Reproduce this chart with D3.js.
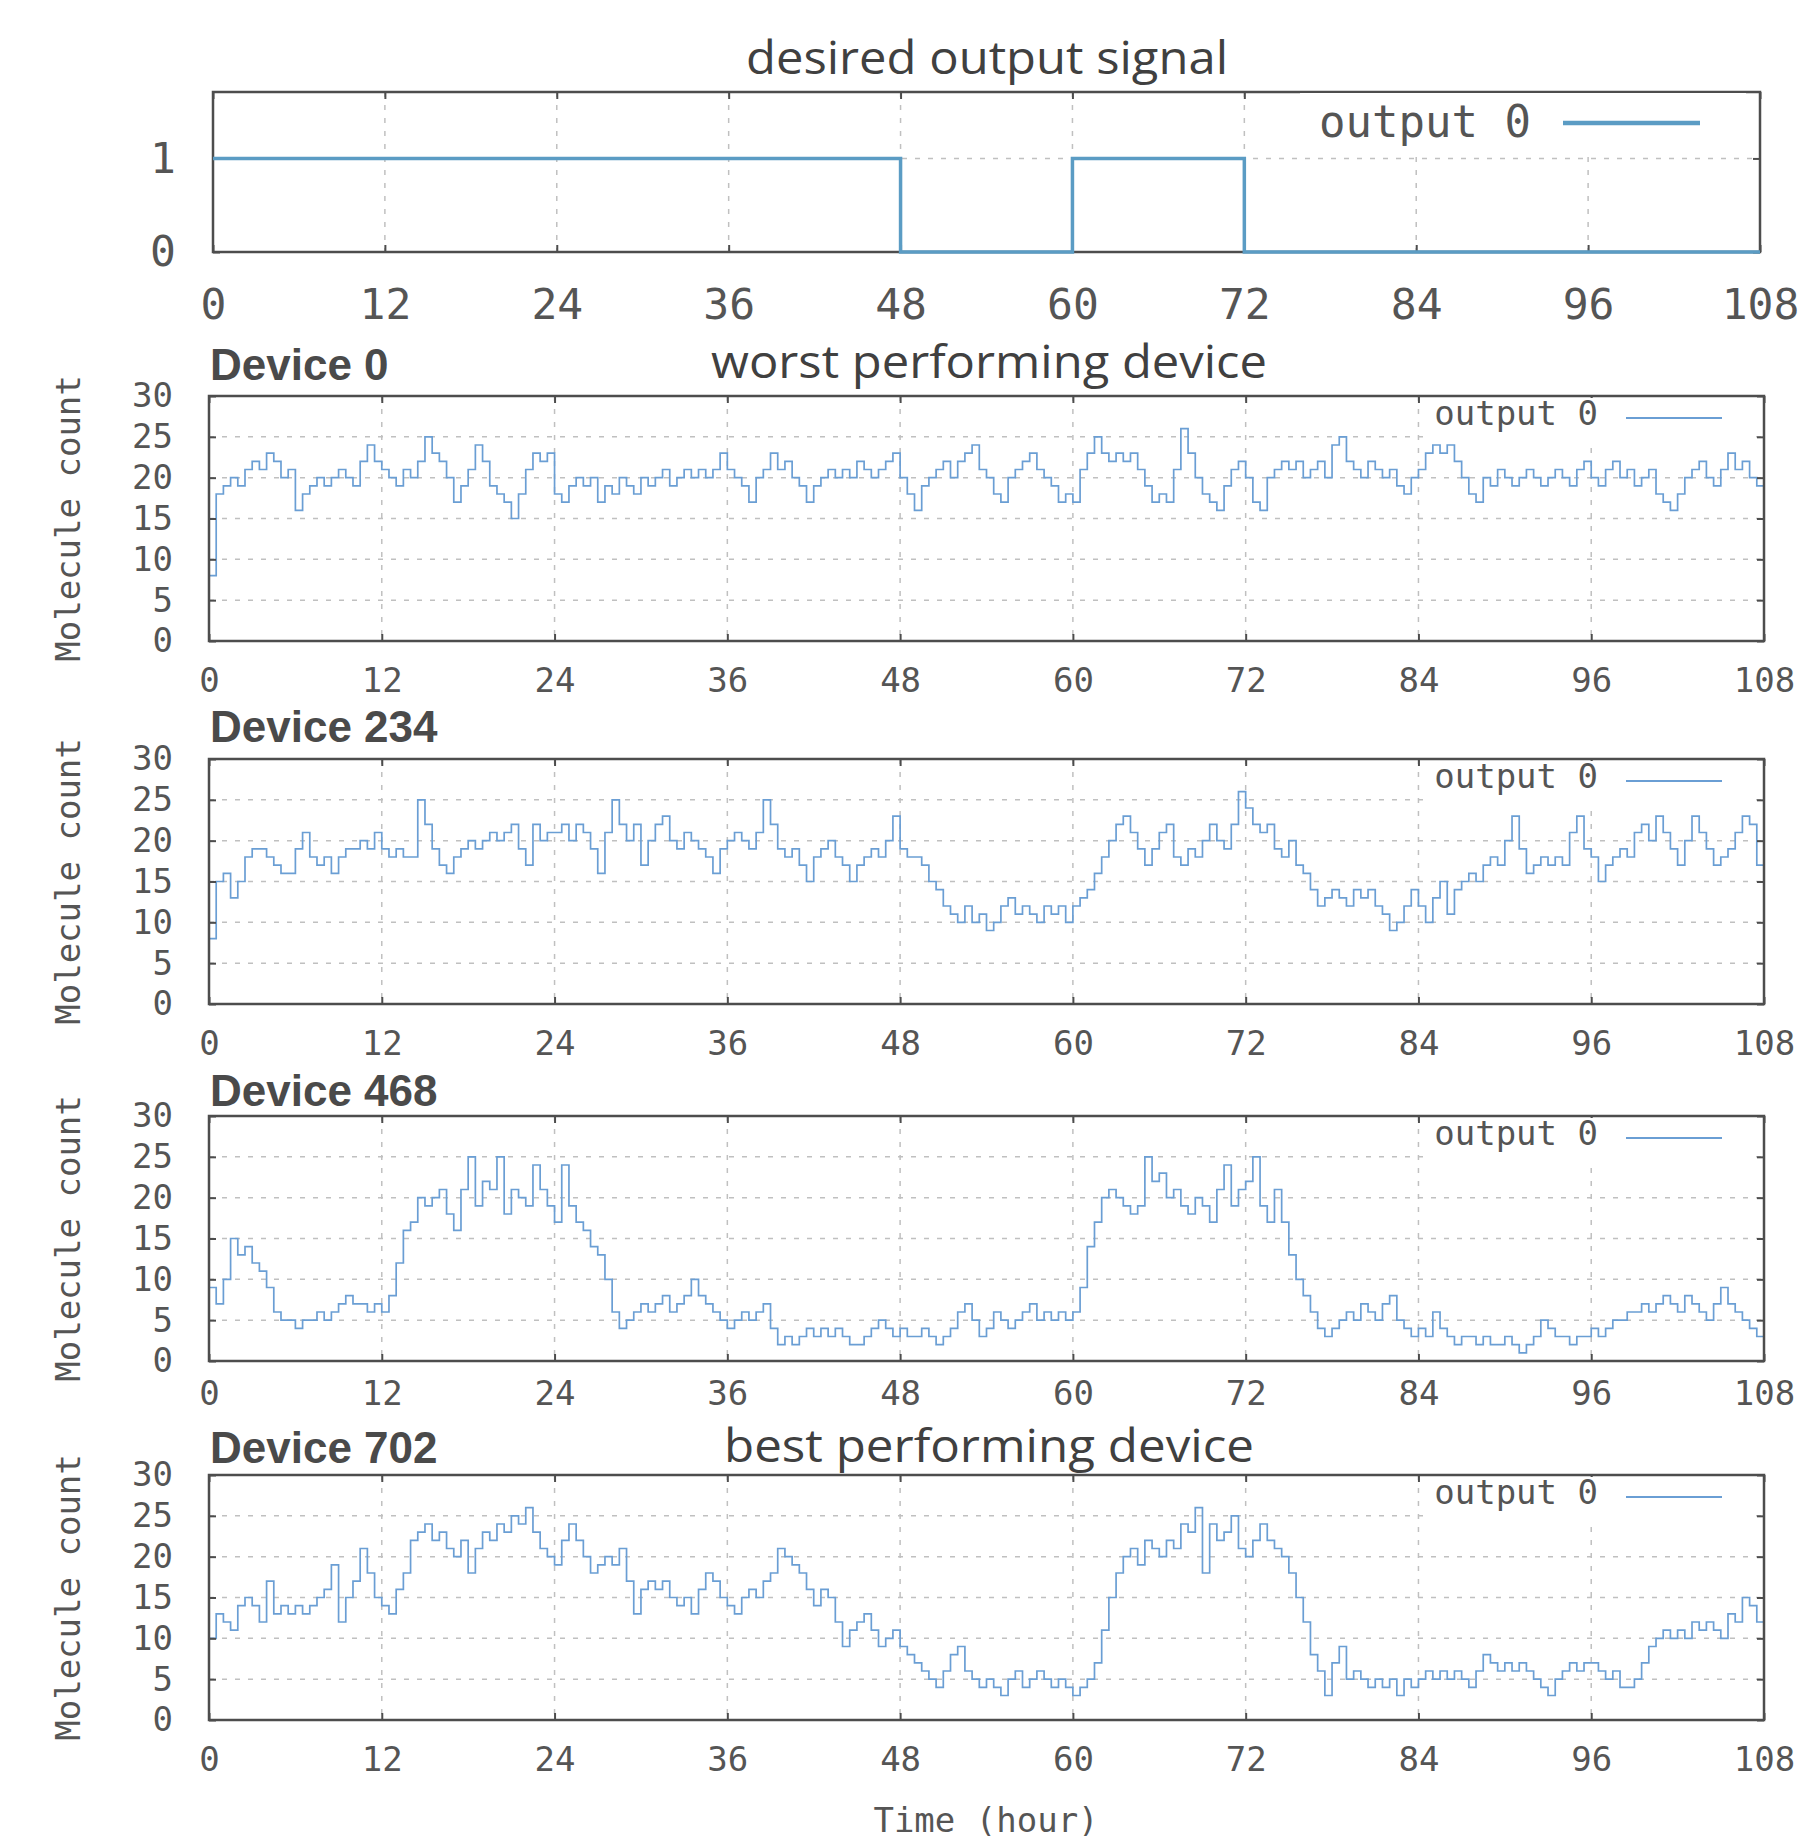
<!DOCTYPE html>
<html>
<head>
<meta charset="utf-8">
<script src="https://cdn.jsdelivr.net/npm/d3@7"></script>
<style>
  body { margin: 0; background: #fff; }
</style>
</head>
<body>
<div id="chart"></div>
<script>
// ---- data ----
const hourTicks = [0, 12, 24, 36, 48, 60, 72, 84, 96, 108];
const countTicks = [0, 5, 10, 15, 20, 25, 30];
const signalTicks = [0, 1];
const sampleStep = 0.5; // hours between samples in the device series

// desired output: step changes
const signalTimes = [0, 48, 60, 72, 108];
const signalLevels = [1, 0, 1, 0, 0];

const deviceNames = ['Device 0', 'Device 234', 'Device 468', 'Device 702'];
const deviceNotes = ['worst performing device', '', '', 'best performing device'];

const device0 = [
  8,18,19,20,19,21,22,21,23,22,20,21,16,18,19,20,19,20,21,20,19,22,24,22,
  21,20,19,21,20,22,25,23,22,20,17,19,21,24,22,19,18,17,15,18,21,23,22,23,
  18,17,19,20,19,20,17,19,18,20,19,18,20,19,20,21,19,20,21,20,21,20,21,23,
  21,20,19,17,20,21,23,21,22,20,19,17,19,20,21,20,21,20,22,21,20,21,22,23,
  20,18,16,19,20,21,22,20,22,23,24,21,20,18,17,20,21,22,23,21,20,19,17,18,
  17,21,23,25,23,22,23,22,23,21,19,17,18,17,21,26,23,20,18,17,16,19,21,22,
  20,17,16,20,21,22,21,22,20,21,22,20,24,25,22,21,20,22,21,20,21,19,18,20,
  21,23,24,23,24,22,20,18,17,20,19,21,20,19,20,21,20,19,20,21,20,19,21,22,
  20,19,21,22,20,21,19,20,21,18,17,16,18,20,21,22,20,19,21,23,21,22,20,19,19
];
const device234 = [
  8,15,16,13,15,18,19,19,18,17,16,16,19,21,18,17,18,16,18,19,19,20,19,21,
  19,18,19,18,18,25,22,19,17,16,18,19,20,19,20,21,20,21,22,19,17,22,20,21,
  21,22,20,22,21,19,16,21,25,22,20,22,17,20,22,23,20,19,21,20,19,18,16,19,
  20,21,20,19,21,25,22,19,18,19,17,15,18,19,20,18,17,15,17,18,19,18,20,23,
  19,18,18,17,15,14,12,11,10,12,10,11,9,10,12,13,11,12,11,10,12,11,12,10,
  12,13,14,16,18,20,22,23,21,19,17,19,21,22,18,17,19,18,20,22,20,19,22,26,
  24,22,21,22,19,18,20,17,16,14,12,13,14,13,12,14,13,14,12,11,9,10,12,14,
  12,10,13,15,11,14,15,16,15,17,18,17,20,23,19,16,17,18,17,18,17,21,23,19,
  18,15,17,18,19,18,21,22,20,23,21,19,17,20,23,21,19,17,18,19,21,23,22,17,20
];
const device468 = [
  9,7,10,15,13,14,12,11,9,6,5,5,4,5,5,6,5,6,7,8,7,7,6,7,
  6,8,12,16,17,20,19,20,21,18,16,21,25,19,22,21,25,18,21,20,19,24,21,19,
  17,24,19,17,16,14,13,10,6,4,5,6,7,6,7,8,6,7,8,10,8,7,6,5,
  4,5,6,5,6,7,4,2,3,2,3,4,3,4,3,4,3,2,2,3,4,5,4,3,
  4,3,3,4,3,2,3,4,6,7,5,3,4,6,5,4,5,6,7,5,6,5,6,5,
  6,9,14,17,20,21,20,19,18,19,25,22,23,20,21,19,18,20,19,17,21,24,19,21,
  22,25,19,17,21,17,13,10,8,6,4,3,4,5,6,5,7,6,5,7,8,5,4,3,
  4,3,6,4,3,2,3,3,2,3,2,2,3,2,1,2,3,5,4,3,3,2,3,3,
  4,3,4,5,5,6,6,7,6,7,8,7,6,8,7,6,5,7,9,7,6,5,4,3,3
];
const device702 = [
  10,13,12,11,14,15,14,12,17,13,14,13,14,13,14,15,16,19,12,15,17,21,18,15,
  14,13,16,18,22,23,24,22,23,21,20,22,18,21,23,22,24,23,25,24,26,23,21,20,
  19,22,24,22,20,18,19,20,19,21,17,13,16,17,16,17,15,14,15,13,16,18,17,15,
  14,13,15,16,15,17,18,21,20,19,18,16,14,16,15,12,9,11,12,13,11,9,10,11,
  9,8,7,6,5,4,6,8,9,6,5,4,5,4,3,5,6,4,5,6,5,4,5,4,
  3,4,5,7,11,15,18,20,21,19,22,21,20,22,21,24,23,26,18,24,22,23,25,21,
  20,22,24,22,21,20,18,15,12,8,6,3,7,9,5,6,5,4,5,4,5,3,5,4,
  5,6,5,6,5,6,5,4,6,8,7,6,7,6,7,6,5,4,3,5,6,7,6,7,
  7,6,5,6,4,4,5,7,9,10,11,10,11,10,12,11,12,11,10,13,12,15,14,12,11
];
const deviceSeries = [device0, device234, device468, device702];

// ---- layout ----
const W = 1812, H = 1845;
const mono = '"DejaVu Sans Mono", monospace';
const frameColor = '#4d4d4d';
const labelColor = '#555555';
const gridColor = '#c0c0c0';
const signalColor = '#5b9cc4';
const deviceColor = '#6a9ed4';

const topPanel = {left: 213, top: 92, width: 1547, height: 160,
  yDomain: [0, 1.71], yTicks: signalTicks, fontSize: 43, xPad: 36, yPad: 37};
const devTops = [396, 759, 1116, 1475];
const devTitleBase = [380, 742, 1106, 1463];
const devXPad = [27, 27, 20, 27];
const devPanel = {left: 209, width: 1555, height: 245,
  yDomain: [0, 30], yTicks: countTicks, fontSize: 34, yPad: 36};

const svg = d3.select('#chart').append('svg')
    .attr('width', W)
    .attr('height', H)
    .style('display', 'block')
    .style('background', '#fff');

function makePanel(p) {
  const g = svg.append('g').attr('transform', 'translate(' + p.left + ',' + p.top + ')');
  const x = d3.scaleLinear().domain([0, 108]).range([0, p.width]);
  const y = d3.scaleLinear().domain(p.yDomain).range([p.height, 0]);

  // grid
  const grid = g.append('g')
      .attr('stroke', gridColor)
      .attr('stroke-width', 1.5)
      .attr('stroke-dasharray', '5,8');
  grid.selectAll('.vg')
      .data(hourTicks.filter(t => t > 0 && t < 108))
    .join('line')
      .attr('class', 'vg')
      .attr('x1', d => x(d)).attr('x2', d => x(d))
      .attr('y1', 0).attr('y2', p.height);
  grid.selectAll('.hg')
      .data(p.yTicks.filter(v => v > p.yDomain[0] && v < p.yDomain[1]))
    .join('line')
      .attr('class', 'hg')
      .attr('x1', 0).attr('x2', p.width)
      .attr('y1', d => y(d)).attr('y2', d => y(d));

  return {g, x, y};
}

function finishPanel(panel, p) {
  const {g, x, y} = panel;
  const style = sel => {
    sel.select('.domain').remove();
    sel.attr('font-family', mono).attr('font-size', p.fontSize);
    sel.selectAll('line').attr('stroke', frameColor).attr('stroke-width', 2);
    sel.selectAll('text').attr('fill', labelColor);
  };
  g.append('g')
      .attr('transform', 'translate(0,' + p.height + ')')
      .call(d3.axisBottom(x).tickValues(hourTicks).tickSizeInner(-7).tickSizeOuter(0).tickPadding(p.xPad))
      .call(style);
  g.append('g')
      .call(d3.axisTop(x).tickValues(hourTicks).tickSizeInner(-7).tickSizeOuter(0).tickFormat(() => ''))
      .call(style);
  g.append('g')
      .call(d3.axisLeft(y).tickValues(p.yTicks).tickFormat(d3.format('d'))
          .tickSizeInner(-7).tickSizeOuter(0).tickPadding(p.yPad))
      .call(style);
  g.append('g')
      .attr('transform', 'translate(' + p.width + ',0)')
      .call(d3.axisRight(y).tickValues(p.yTicks).tickSizeInner(-7).tickSizeOuter(0).tickFormat(() => ''))
      .call(style);
  g.append('rect')
      .attr('width', p.width)
      .attr('height', p.height)
      .attr('fill', 'none')
      .attr('stroke', frameColor)
      .attr('stroke-width', 2.5);
}

function legend(box, text, line) {
  svg.append('rect')
      .attr('x', box.x).attr('y', box.y)
      .attr('width', box.w).attr('height', box.h)
      .attr('fill', '#fff');
  svg.append('text')
      .attr('x', text.x).attr('y', text.y)
      .attr('text-anchor', 'end')
      .attr('font-family', mono)
      .attr('font-size', text.size)
      .attr('fill', labelColor)
      .text('output 0');
  svg.append('line')
      .attr('x1', line.x1).attr('x2', line.x2)
      .attr('y1', line.y).attr('y2', line.y)
      .attr('stroke', line.color)
      .attr('stroke-width', line.width);
}

function title(txt, cx, base, len) {
  svg.append('text')
      .attr('x', cx).attr('y', base)
      .attr('text-anchor', 'middle')
      .attr('font-family', '"Open Sans", "Noto Sans", sans-serif')
      .attr('font-size', 46)
      .attr('textLength', len)
      .attr('lengthAdjust', 'spacingAndGlyphs')
      .attr('fill', '#404040')
      .text(txt);
}

// ---- top panel: desired signal ----
title('desired output signal', 987, 74, 482);
const sp = makePanel(topPanel);
legend({x: 1300, y: 93, w: 446, h: 58},
       {x: 1531, y: 137, size: 44},
       {x1: 1563, x2: 1700, y: 123, color: signalColor, width: 4.5});
finishPanel(sp, topPanel);
sp.g.append('path')
    .datum(signalLevels)
    .attr('fill', 'none')
    .attr('stroke', signalColor)
    .attr('stroke-width', 3.5)
    .attr('d', d3.line()
        .x((d, i) => sp.x(signalTimes[i]))
        .y(d => sp.y(d))
        .curve(d3.curveStepAfter));

// ---- device panels ----
const noteLayout = [{base: 378, len: 556}, null, null, {base: 1462, len: 530}];

deviceSeries.forEach((values, k) => {
  const p = Object.assign({top: devTops[k], xPad: devXPad[k]}, devPanel);
  const panel = makePanel(p);

  panel.g.append('path')
      .datum(values)
      .attr('fill', 'none')
      .attr('stroke', deviceColor)
      .attr('stroke-width', 1.7)
      .attr('d', d3.line()
          .x((d, i) => panel.x(i * sampleStep))
          .y(d => panel.y(d))
          .curve(d3.curveStepAfter));

  legend({x: 1425, y: p.top + 2, w: 325, h: 42},
         {x: 1598, y: p.top + 29, size: 34},
         {x1: 1626, x2: 1722, y: p.top + 22, color: deviceColor, width: 2});

  finishPanel(panel, p);

  svg.append('text')
      .attr('x', 210).attr('y', devTitleBase[k])
      .attr('font-family', '"Liberation Sans", Arial, sans-serif')
      .attr('font-weight', 'bold')
      .attr('font-size', 44)
      .attr('fill', '#4a4a4a')
      .text(deviceNames[k]);

  if (deviceNotes[k]) {
    title(deviceNotes[k], 989, noteLayout[k].base, noteLayout[k].len);
  }

  svg.append('text')
      .attr('transform', 'translate(80,' + (p.top + p.height / 2) + ') rotate(-90)')
      .attr('text-anchor', 'middle')
      .attr('font-family', mono)
      .attr('font-size', 34)
      .attr('fill', labelColor)
      .text('Molecule count');
});

svg.append('text')
    .attr('x', 986).attr('y', 1832)
    .attr('text-anchor', 'middle')
    .attr('font-family', mono)
    .attr('font-size', 34)
    .attr('fill', labelColor)
    .text('Time (hour)');
</script>
</body>
</html>
